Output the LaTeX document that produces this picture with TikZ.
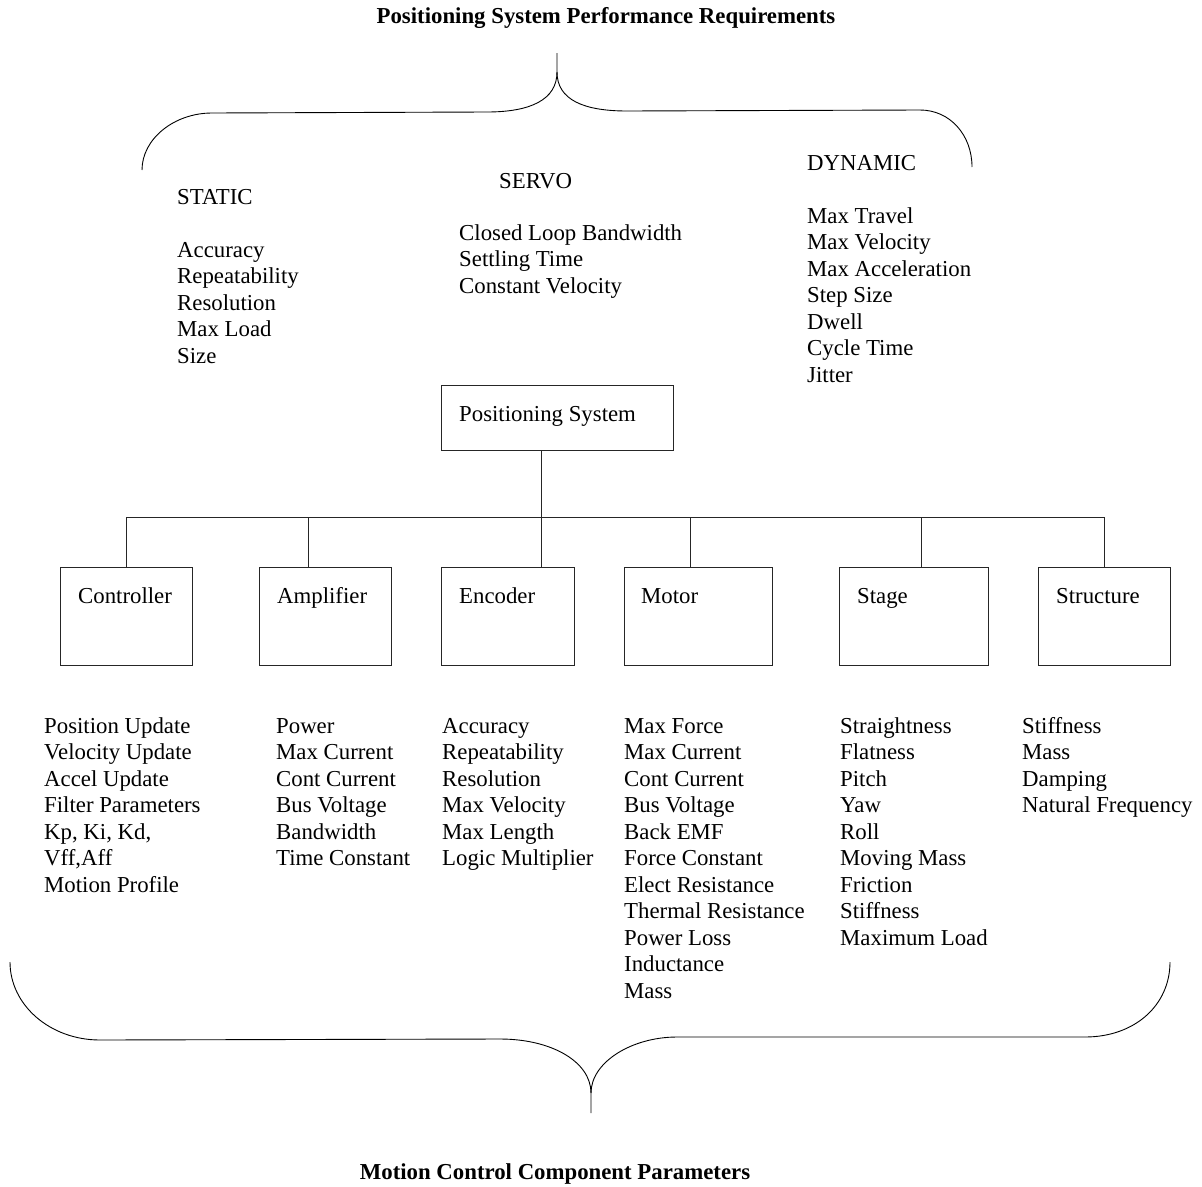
\documentclass[tikz,border=0pt]{standalone}
\usepackage{fontspec}
\setmainfont{Liberation Serif}
\begin{document}
\begin{tikzpicture}[x=1pt,y=-1pt,
  txt/.style={inner sep=0pt,anchor=base west,font=\fontsize{22.8}{26.5}\selectfont},
  ttl/.style={inner sep=0pt,anchor=base,font=\fontsize{22.8}{26.5}\selectfont\bfseries},
  boxn/.style={draw=black!85,line width=0.9pt,inner sep=0pt,anchor=north west},
  conn/.style={draw=black!85,line width=0.9pt},
  brace/.style={draw=black,line width=0.9pt}]
\useasboundingbox (0,0) rectangle (1202,1186);
\newcommand{\lst}[1]{\begin{tabular}[t]{@{}l@{}}#1\end{tabular}}
% titles
\node[ttl] (t1) at (606,23) {Positioning System Performance Requirements};
\node[ttl] (t2) at (555,1179) {Motion Control Component Parameters};
% top brace
\path[brace] (142,170) .. controls (142,139) and (174,113) .. (212,113) -- (487,112)
  .. controls (530,112) and (557,100) .. (557,72) -- (557,53);
\path[brace] (557,72) .. controls (557,100) and (584,111) .. (627,111) -- (920,110)
  .. controls (950,110) and (972,135) .. (972,167);
% bottom brace
\path[brace] (10,962) .. controls (10,1005) and (50,1040) .. (100,1040) -- (500,1039)
  .. controls (552,1039) and (591,1062) .. (591,1093) -- (591,1113);
\path[brace] (591,1093) .. controls (591,1062) and (632,1037) .. (677,1037) -- (1085,1037)
  .. controls (1135,1037) and (1170,1005) .. (1170,962);
% requirement lists
\node[txt] (st) at (177,204) {STATIC};
\node[txt] (stl) at (177,257) {\lst{Accuracy\\Repeatability\\Resolution\\Max Load\\Size}};
\node[txt] (sv) at (499,188) {SERVO};
\node[txt] (svl) at (459,240) {\lst{Closed Loop Bandwidth\\Settling Time\\Constant Velocity}};
\node[txt] (dy) at (807,170) {DYNAMIC};
\node[txt] (dyl) at (807,223) {\lst{Max Travel\\Max Velocity\\Max Acceleration\\Step Size\\Dwell\\Cycle Time\\Jitter}};
% positioning system
\node[boxn,minimum width=232,minimum height=65] (ps) at (441,385) {};
\node[txt] (pst) at (459,421) {Positioning System};
% component boxes
\node[boxn,minimum width=132,minimum height=98] (ctrl) at (60,567) {};
\node[boxn,minimum width=132,minimum height=98] (amp) at (259,567) {};
\node[boxn,minimum width=133,minimum height=98] (enc) at (441,567) {};
\node[boxn,minimum width=148,minimum height=98] (mot) at (624,567) {};
\node[boxn,minimum width=149,minimum height=98] (stg) at (839,567) {};
\node[boxn,minimum width=132,minimum height=98] (str) at (1038,567) {};
\node[txt] (ctrlt) at (78,603) {Controller};
\node[txt] (ampt) at (277,603) {Amplifier};
\node[txt] (enct) at (459,603) {Encoder};
\node[txt] (mott) at (641,603) {Motor};
\node[txt] (stgt) at (857,603) {Stage};
\node[txt] (strt) at (1056,603) {Structure};
% connectors
\coordinate (dC) at (126,517);
\coordinate (dA) at (308,517);
\coordinate (dE) at (541,517);
\coordinate (dM) at (690,517);
\coordinate (dG) at (921,517);
\coordinate (dS) at (1104,517);
\draw[conn] (ps.south -| dE) -- (enc.north -| dE);
\draw[conn] (dC) -- (dS);
\draw[conn] (dC) -- (ctrl.north -| dC);
\draw[conn] (dA) -- (amp.north -| dA);
\draw[conn] (dM) -- (mot.north -| dM);
\draw[conn] (dG) -- (stg.north -| dG);
\draw[conn] (dS) -- (str.north -| dS);
% parameter lists
\node[txt] (ctrll) at (44,733) {\lst{Position Update\\Velocity Update\\Accel Update\\Filter Parameters\\Kp, Ki, Kd,\\Vff,Aff\\Motion Profile}};
\node[txt] (ampl) at (276,733) {\lst{Power\\Max Current\\Cont Current\\Bus Voltage\\Bandwidth\\Time Constant}};
\node[txt] (encl) at (442,733) {\lst{Accuracy\\Repeatability\\Resolution\\Max Velocity\\Max Length\\Logic Multiplier}};
\node[txt] (motl) at (624,733) {\lst{Max Force\\Max Current\\Cont Current\\Bus Voltage\\Back EMF\\Force Constant\\Elect Resistance\\Thermal Resistance\\Power Loss\\Inductance\\Mass}};
\node[txt] (stgl) at (840,733) {\lst{Straightness\\Flatness\\Pitch\\Yaw\\Roll\\Moving Mass\\Friction\\Stiffness\\Maximum Load}};
\node[txt] (strl) at (1022,733) {\lst{Stiffness\\Mass\\Damping\\Natural Frequency}};
\end{tikzpicture}
\end{document}
